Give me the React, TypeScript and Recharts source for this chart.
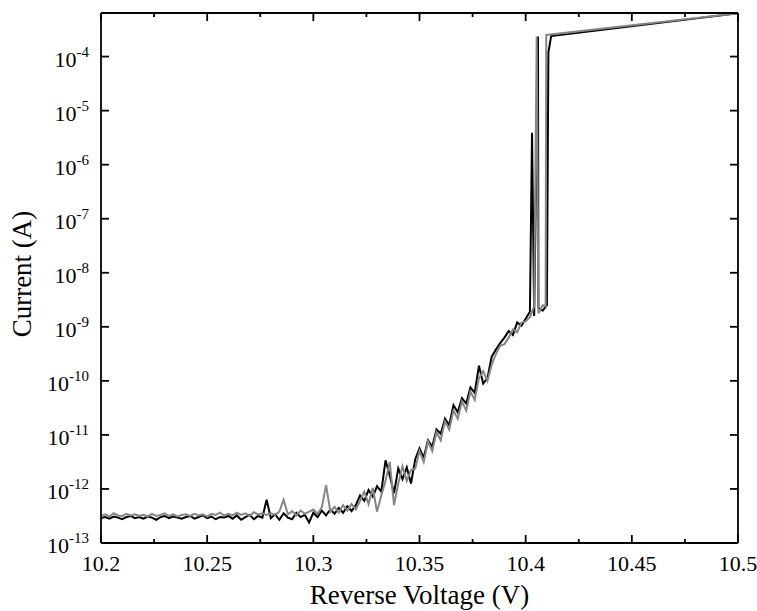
import { LineChart, Line, XAxis, YAxis } from "recharts";

const W = 757;
const H = 611;
const PLOT_LEFT = 101;
const PLOT_RIGHT = 738;
const PLOT_TOP = 13;
const PLOT_BOTTOM = 543;
const FONT = "Liberation Serif, Times New Roman, serif";

// reverse voltage grid (V), shared by both sweeps
const voltage = [
  10.2, 10.202, 10.204, 10.206, 10.208, 10.21, 10.212, 10.214, 10.216, 10.218,
  10.22, 10.222, 10.224, 10.226, 10.228, 10.23, 10.232, 10.234, 10.236, 10.238,
  10.24, 10.242, 10.244, 10.246, 10.248, 10.25, 10.252, 10.254, 10.256, 10.258,
  10.26, 10.262, 10.264, 10.266, 10.268, 10.27, 10.272, 10.274, 10.276, 10.278,
  10.28, 10.282, 10.284, 10.286, 10.288, 10.29, 10.292, 10.294, 10.296, 10.298,
  10.3, 10.302, 10.304, 10.306, 10.308, 10.31, 10.312, 10.314, 10.316, 10.318,
  10.32, 10.322, 10.324, 10.326, 10.328, 10.33, 10.332, 10.334, 10.336, 10.338,
  10.34, 10.342, 10.344, 10.346, 10.348, 10.35, 10.352, 10.354, 10.356, 10.358,
  10.36, 10.362, 10.364, 10.366, 10.368, 10.37, 10.372, 10.374, 10.376, 10.378,
  10.38, 10.382, 10.384, 10.386, 10.388, 10.39, 10.392, 10.394, 10.396, 10.398,
  10.4, 10.402, 10.404, 10.406, 10.408,
];

// log10 of current (A)
const blackLog = [
  -12.54, -12.52, -12.55, -12.51, -12.53, -12.56, -12.52, -12.5, -12.54, -12.52,
  -12.55, -12.51, -12.53, -12.57, -12.52, -12.5, -12.54, -12.51, -12.53, -12.55,
  -12.52, -12.5, -12.55, -12.52, -12.49, -12.54, -12.51, -12.56, -12.52, -12.53,
  -12.5, -12.55, -12.49, -12.57, -12.52, -12.48, -12.56, -12.5, -12.53, -12.2,
  -12.54, -12.47, -12.57, -12.45, -12.53, -12.56, -12.44, -12.52, -12.48, -12.62,
  -12.44, -12.52, -12.4, -12.49, -12.38, -12.46, -12.35, -12.44, -12.32, -12.41,
  -12.3, -12.12, -12.22, -12.02, -12.14, -11.95, -12.05, -11.47, -11.75, -12.08,
  -11.62, -11.82, -11.6, -11.9, -11.45, -11.25, -11.42, -11.1, -11.22, -10.9,
  -10.98, -10.7, -10.82, -10.45, -10.58, -10.32, -10.42, -10.12, -10.22, -9.72,
  -10.05, -9.95, -9.55, -9.42, -9.3, -9.2, -9.08, -9.15, -8.92, -8.98,
  -8.85, -8.72, -8.8, -8.65, -8.7,
];

const grayLog = [
  -12.5, -12.47, -12.51, -12.45, -12.49, -12.5, -12.46, -12.49, -12.47, -12.5,
  -12.48, -12.51, -12.46, -12.5, -12.48, -12.45, -12.5, -12.47, -12.51, -12.48,
  -12.47, -12.5, -12.46, -12.49, -12.47, -12.51, -12.46, -12.48, -12.44, -12.49,
  -12.46, -12.49, -12.44, -12.48, -12.45, -12.5, -12.43, -12.47, -12.45, -12.48,
  -12.45, -12.48, -12.42, -12.2, -12.47, -12.41, -12.49, -12.4, -12.46, -12.42,
  -12.38, -12.46, -12.34, -11.93, -12.42, -12.33, -12.44, -12.3, -12.4, -12.28,
  -12.38, -12.22, -12.05, -12.28, -11.98, -12.42, -12.12, -11.85, -11.5, -12.3,
  -11.9, -11.58, -11.85, -11.65, -11.62, -11.3, -11.5, -11.12, -11.3, -10.95,
  -11.1, -10.75, -10.9, -10.55, -10.7, -10.38, -10.55, -10.2, -10.35, -9.95,
  -9.82, -10.0, -9.7, -9.5, -9.35, -9.32, -9.2, -9.05, -9.1, -8.92,
  -8.9, -8.82, -8.62, -8.75, -8.6,
];

// breakdown spikes and the jump to the compliance level
const blackExtraV = [10.403, 10.4058, 10.41, 10.4107, 10.412, 10.5];
const blackExtraLog = [-5.41, -3.63, -8.6, -3.92, -3.62, -3.2];
const grayExtraV = [10.4052, 10.4094, 10.4097, 10.5];
const grayExtraLog = [-3.63, -8.62, -3.6, -3.2];

const xTicks = [10.2, 10.225, 10.25, 10.275, 10.3, 10.325, 10.35, 10.375, 10.4, 10.425, 10.45, 10.475, 10.5];
const xMajor = [10.2, 10.25, 10.3, 10.35, 10.4, 10.45, 10.5];
const yExponents = [-13, -12, -11, -10, -9, -8, -7, -6, -5, -4];
const yTicks = yExponents.map((e) => Math.pow(10, e));
const Y_MAX = 6.4e-4;

const toPoints = (vs: number[], logs: number[]) =>
  vs.map((v, k) => ({ v, i: Math.pow(10, logs[k]) }));

const blackData = [...toPoints(voltage, blackLog), ...toPoints(blackExtraV, blackExtraLog)].sort((a, b) => a.v - b.v);
const grayData = [...toPoints(voltage, grayLog), ...toPoints(grayExtraV, grayExtraLog)].sort((a, b) => a.v - b.v);

const isMajor = (v: number) => xMajor.some((m) => Math.abs(m - v) < 1e-6);

const textStyle = { fontFamily: FONT, fill: "#000" };

function BottomTick(props: any) {
  const { x, payload } = props;
  const major = isMajor(payload.value);
  return (
    <g>
      <line x1={x} x2={x} y1={PLOT_BOTTOM} y2={PLOT_BOTTOM - (major ? 8 : 4)} stroke="#000" strokeWidth={1.8} />
      {major && (
        <text x={x} y={571} textAnchor="middle" style={{ ...textStyle, fontSize: 22 }}>
          {String(Number(payload.value.toFixed(3)))}
        </text>
      )}
    </g>
  );
}

function TopTick(props: any) {
  const { x, payload } = props;
  const major = isMajor(payload.value);
  return <line x1={x} x2={x} y1={PLOT_TOP} y2={PLOT_TOP + (major ? 8 : 4)} stroke="#000" strokeWidth={1.8} />;
}

function LeftTick(props: any) {
  const { y, payload } = props;
  const exp = Math.round(Math.log10(payload.value));
  return (
    <g>
      <line x1={PLOT_LEFT} x2={PLOT_LEFT + 8} y1={y} y2={y} stroke="#000" strokeWidth={1.8} />
      <text x={89} y={y + 10} textAnchor="end" style={{ ...textStyle, fontSize: 22 }}>
        10
        <tspan dy={-10} style={{ fontSize: 15 }}>
          {exp}
        </tspan>
      </text>
    </g>
  );
}

function RightTick(props: any) {
  const { y } = props;
  return <line x1={PLOT_RIGHT} x2={PLOT_RIGHT - 8} y1={y} y2={y} stroke="#000" strokeWidth={1.8} />;
}

export default function App() {
  const axisLine = { stroke: "#000", strokeWidth: 1.8 };
  return (
    <div style={{ position: "absolute", left: 0, top: 0, background: "#fff" }}>
      <LineChart width={W} height={H} margin={{ top: 0, right: 0, bottom: 0, left: 0 }}>
        <XAxis
          xAxisId="bottom"
          dataKey="v"
          type="number"
          domain={[10.2, 10.5]}
          ticks={xTicks}
          interval={0}
          allowDataOverflow
          height={H - PLOT_BOTTOM}
          axisLine={axisLine}
          tickLine={false}
          tick={BottomTick}
          label={() => (
            <text x={(PLOT_LEFT + PLOT_RIGHT) / 2} y={604} textAnchor="middle" style={{ ...textStyle, fontSize: 27 }}>
              Reverse Voltage (V)
            </text>
          )}
        />
        <XAxis
          xAxisId="top"
          orientation="top"
          dataKey="v"
          type="number"
          domain={[10.2, 10.5]}
          ticks={xTicks}
          interval={0}
          allowDataOverflow
          height={PLOT_TOP}
          axisLine={axisLine}
          tickLine={false}
          tick={TopTick}
        />
        <YAxis
          yAxisId="left"
          type="number"
          scale="log"
          domain={[1e-13, Y_MAX]}
          ticks={yTicks}
          interval={0}
          allowDataOverflow
          width={PLOT_LEFT}
          axisLine={axisLine}
          tickLine={false}
          tick={LeftTick}
          label={() => (
            <text
              x={31}
              y={274}
              transform="rotate(-90, 31, 274)"
              textAnchor="middle"
              style={{ ...textStyle, fontSize: 27 }}
            >
              Current (A)
            </text>
          )}
        />
        <YAxis
          yAxisId="right"
          orientation="right"
          type="number"
          scale="log"
          domain={[1e-13, Y_MAX]}
          ticks={yTicks}
          interval={0}
          allowDataOverflow
          width={W - PLOT_RIGHT}
          axisLine={axisLine}
          tickLine={false}
          tick={RightTick}
        />
        <Line
          xAxisId="bottom"
          yAxisId="left"
          data={blackData}
          dataKey="i"
          type="linear"
          stroke="#000"
          strokeWidth={2}
          dot={false}
          isAnimationActive={false}
        />
        <Line
          xAxisId="bottom"
          yAxisId="left"
          data={grayData}
          dataKey="i"
          type="linear"
          stroke="#858585"
          strokeWidth={2}
          dot={false}
          isAnimationActive={false}
        />
      </LineChart>
    </div>
  );
}
